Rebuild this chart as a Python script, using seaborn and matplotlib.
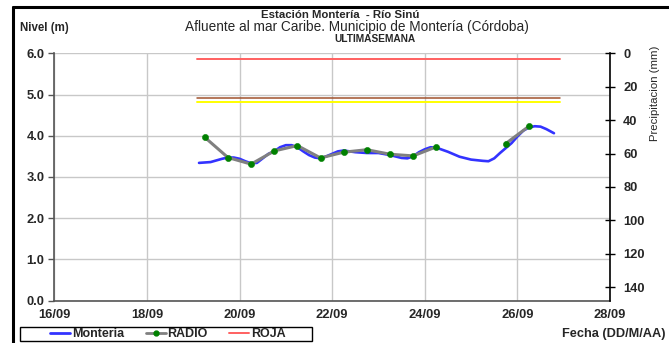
import matplotlib
matplotlib.use("Agg")
import matplotlib.pyplot as plt
import matplotlib.dates as mdates
from matplotlib.lines import Line2D
from matplotlib.patches import Rectangle
import numpy as np
import pandas as pd
import seaborn as sns

# --- data -----------------------------------------------------------------
base = pd.Timestamp("2014-09-16")

# Monteria station level (m): time offsets in days from 16/09 and level
monteria_days = [3.125, 3.375, 3.625, 3.75, 3.875, 4.0, 4.125, 4.25, 4.375, 4.5,
                 4.625, 4.75, 4.875, 5.0, 5.125, 5.25, 5.375, 5.5, 5.625, 5.75,
                 5.875, 6.0, 6.125, 6.25, 6.5, 6.75, 7.0, 7.25, 7.5, 7.625,
                 7.75, 7.875, 8.0, 8.125, 8.25, 8.5, 8.75, 9.0, 9.25, 9.375,
                 9.5, 9.625, 9.75, 9.875, 10.0, 10.125, 10.25, 10.375, 10.5,
                 10.625, 10.79]
monteria_level = [3.34, 3.36, 3.44, 3.47, 3.47, 3.44, 3.38, 3.33, 3.34, 3.45,
                  3.56, 3.62, 3.72, 3.77, 3.77, 3.72, 3.62, 3.53, 3.47, 3.45,
                  3.50, 3.56, 3.62, 3.64, 3.60, 3.58, 3.58, 3.53, 3.46, 3.45,
                  3.50, 3.60, 3.67, 3.72, 3.71, 3.61, 3.49, 3.42, 3.39, 3.38,
                  3.45, 3.58, 3.70, 3.82, 3.98, 4.12, 4.20, 4.23, 4.22,
                  4.16, 4.06]

# Radio reports (m), 06:00 and 18:00 readings; NaN = no report
radio_days = [3.25, 3.75, 4.25, 4.75, 5.25, 5.75, 6.25, 6.75, 7.25, 7.75,
              8.25, 8.75, 9.25, 9.75, 10.25]
radio_level = [3.96, 3.47, 3.31, 3.63, 3.76, 3.46, 3.60, 3.66, 3.55, 3.51,
               3.73, np.nan, np.nan, 3.81, 4.23]

# Alert thresholds (m) and the span they cover
alert_days = [3.08, 10.92]
roja_level = 5.87
naranja_level = 4.91
amarilla_level = 4.81

x_ticks_days = [0, 2, 4, 6, 8, 10, 12]
y_ticks = [0.0, 1.0, 2.0, 3.0, 4.0, 5.0, 6.0]
precip_ticks = [0, 20, 40, 60, 80, 100, 120, 140]

# --- frames ---------------------------------------------------------------
to_time = lambda d: base + pd.to_timedelta(np.asarray(d, dtype=float), unit="D")
df_mon = pd.DataFrame({"fecha": to_time(monteria_days), "nivel": monteria_level})
df_rad = pd.DataFrame({"fecha": to_time(radio_days), "nivel": radio_level})
t_alert = to_time(alert_days)
df_roja = pd.DataFrame({"fecha": t_alert, "nivel": [roja_level] * 2})
df_nar = pd.DataFrame({"fecha": t_alert, "nivel": [naranja_level] * 2})
df_ama = pd.DataFrame({"fecha": t_alert, "nivel": [amarilla_level] * 2})

# --- style ----------------------------------------------------------------
sns.set_style("white")
plt.rcParams["font.family"] = ["Liberation Sans", "DejaVu Sans"]

W, H = 669, 343
fig = plt.figure(figsize=(W / 100, H / 100), dpi=100)
ax = fig.add_axes([54.3 / W, 1 - 300.5 / H, (610 - 54.3) / W, (300.5 - 53.3) / H])

sns.lineplot(data=df_roja, x="fecha", y="nivel", ax=ax, color="#ff6060", lw=1.4)
sns.lineplot(data=df_nar, x="fecha", y="nivel", ax=ax, color="#a0522d", lw=1.1)
sns.lineplot(data=df_ama, x="fecha", y="nivel", ax=ax, color="#ffff00", lw=1.4)
sns.lineplot(data=df_mon, x="fecha", y="nivel", ax=ax, color="#3333ff", lw=1.9)
# radio series: NaN keeps the gap between reports open
ax.plot(df_rad["fecha"], df_rad["nivel"], color="#808080", lw=2.2, zorder=3)
sns.scatterplot(data=df_rad.dropna(), x="fecha", y="nivel", ax=ax,
                color="#008000", s=20, edgecolor="#008000", zorder=4)

ax.set_xlim(base, base + pd.Timedelta(days=12))
ax.set_ylim(0, 6)
ax.set_xticks(to_time(x_ticks_days))
ax.xaxis.set_major_formatter(mdates.DateFormatter("%d/%m"))
ax.set_yticks(y_ticks)
ax.set_yticklabels([f"{v:.1f}" for v in y_ticks])
ax.set_xlabel("")
ax.set_ylabel("")
ax.grid(True, color="#c8c8c8", lw=1.0)
for side in ("top", "right"):
    ax.spines[side].set_visible(False)
for side in ("left", "bottom"):
    ax.spines[side].set_color("#555555")
    ax.spines[side].set_linewidth(1.2)
ax.tick_params(axis="y", direction="out", length=4, width=1, color="#555555",
               labelsize=9.3, pad=3)
ax.tick_params(axis="x", direction="inout", length=6, width=1, color="#555555",
               labelsize=9.3, pad=3)
for lab in ax.get_xticklabels() + ax.get_yticklabels():
    lab.set_fontweight("bold")

# precipitation axis (inverted)
ax2 = ax.twinx()
ax2.set_ylim(148, 0)
ax2.set_yticks(precip_ticks)
ax2.tick_params(axis="y", direction="inout", length=7, width=1, color="black",
                labelsize=9.3, pad=6)
for lab in ax2.get_yticklabels():
    lab.set_fontweight("bold")
for side in ("top", "left", "bottom"):
    ax2.spines[side].set_visible(False)
ax2.spines["right"].set_color("black")
ax2.spines["right"].set_linewidth(1.2)
ax2.grid(False)

# titles and axis captions
fig.text(340 / W, 1 - 15.5 / H, "Estación Montería  - Río Sinú", ha="center",
         va="center", fontsize=8.2, fontweight="bold")
fig.text(357 / W, 1 - 27 / H,
         "Afluente al mar Caribe. Municipio de Montería (Córdoba)",
         ha="center", va="center", fontsize=9.8)
fig.text(375 / W, 1 - 38.5 / H, "ULTIMASEMANA", ha="center", va="center",
         fontsize=7.3, fontweight="bold")
fig.text(20 / W, 1 - 28 / H, "Nivel (m)", ha="left", va="center",
         fontsize=8.3, fontweight="bold")
fig.text(655 / W, 1 - 93 / H, "Precipitacion (mm)", ha="center", va="center",
         rotation=90, fontsize=8.2)
fig.text(665 / W, 1 - 334 / H, "Fecha (DD/M/AA)", ha="right", va="center",
         fontsize=9.2, fontweight="bold")

# outer chart border (top and left)
fig.add_artist(Line2D([13 / W, 13 / W], [0, 1 - 7 / H], color="black", lw=2.2))
fig.add_artist(Line2D([13 / W, 1], [1 - 7 / H, 1 - 7 / H], color="black", lw=2.2))

# legend entries, with a separate box drawn around them
handles = [
    Line2D([], [], color="#3333ff", lw=2),
    Line2D([], [], color="#808080", lw=2, marker="o", markersize=3.5,
           markerfacecolor="#008000", markeredgecolor="#008000"),
    Line2D([], [], color="#ff6060", lw=1.4),
]
leg = fig.legend(handles, ["Monteria", "RADIO", "ROJA"], ncol=3,
                 loc="center", bbox_to_anchor=(168 / W, 1 - 334 / H),
                 frameon=False, fontsize=9, handlelength=1.6,
                 handletextpad=0.15, columnspacing=1.7, borderpad=0,
                 borderaxespad=0)
for t in leg.get_texts():
    t.set_fontweight("bold")
fig.add_artist(Rectangle((20 / W, 1 - 341 / H), 292 / W, 14 / H,
                         transform=fig.transFigure, fill=False,
                         edgecolor="black", lw=1.0))

fig.savefig("out.png", dpi=100)
